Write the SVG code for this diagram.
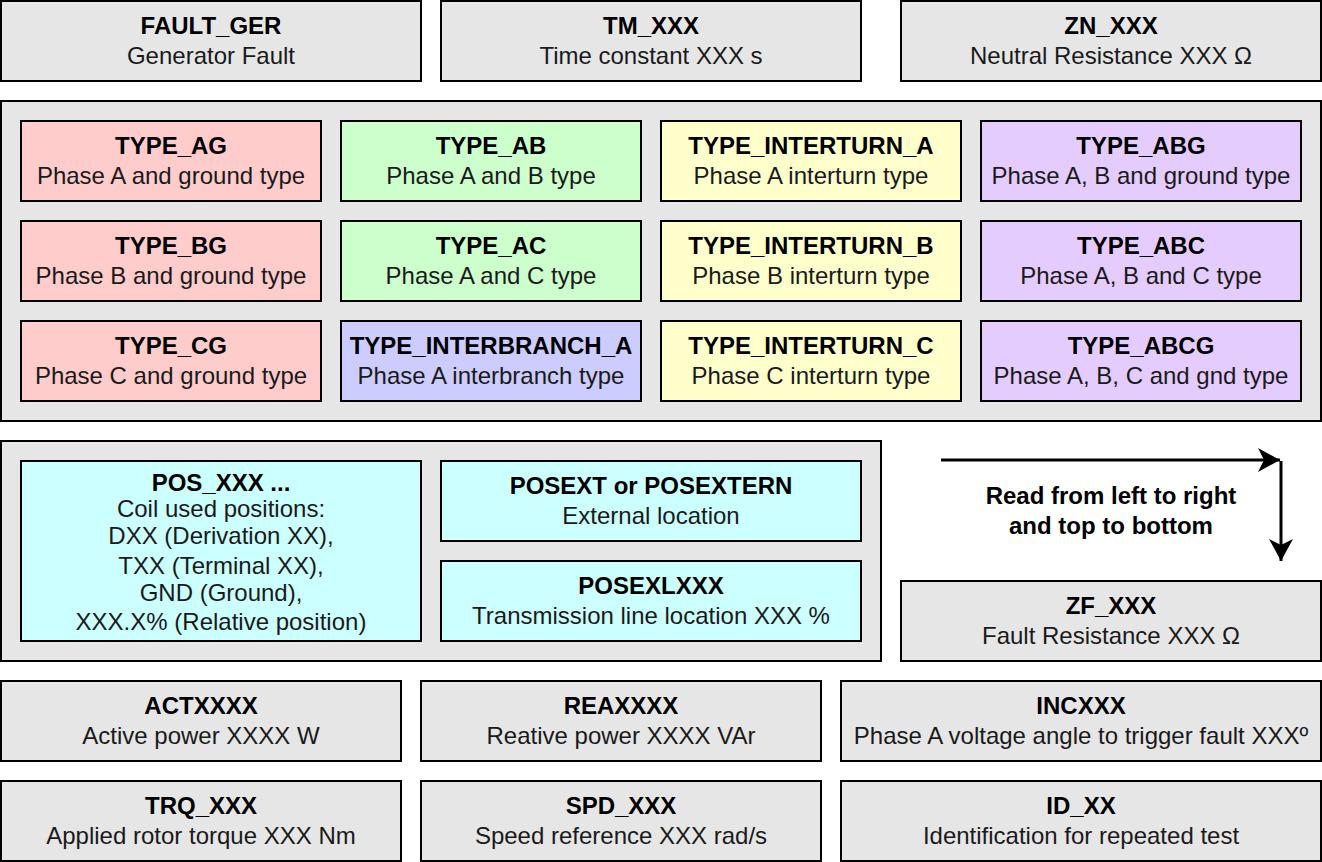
<svg xmlns="http://www.w3.org/2000/svg" width="1322" height="862" viewBox="0 0 1322 862">
<style>
rect{stroke:#000;stroke-width:2}
.g{fill:#e6e6e6}.r{fill:#ffcccc}.gr{fill:#ccffcc}.y{fill:#ffffcc}.p{fill:#e5ccff}.b{fill:#ccccff}.c{fill:#ccffff}
text{font-family:"Liberation Sans",Arial,sans-serif;font-size:24px;text-anchor:middle;fill:#000}
.t{font-weight:bold}
.s{fill:#1a1a1a}
</style>
<defs>
<marker id="ah" viewBox="0 0 22 24" refX="22" refY="12" markerWidth="22" markerHeight="24" markerUnits="userSpaceOnUse" orient="auto">
<path d="M0,0 L22,12 L0,24 L6,12 Z" fill="#000"/>
</marker>
</defs>
<g id="fault_ger"><rect class="g" x="1" y="1" width="420" height="80"/><text class="t" x="211" y="34">FAULT_GER</text><text class="s" x="211" y="64">Generator Fault</text></g>
<g id="tm"><rect class="g" x="441" y="1" width="420" height="80"/><text class="t" x="651" y="34">TM_XXX</text><text class="s" x="651" y="64">Time constant XXX s</text></g>
<g id="zn"><rect class="g" x="901" y="1" width="420" height="80"/><text class="t" x="1111" y="34">ZN_XXX</text><text class="s" x="1111" y="64">Neutral Resistance XXX Ω</text></g>

<g id="types"><rect class="g" x="1" y="101" width="1320" height="320"/></g>
<g id="type_ag"><rect class="r" x="21" y="121" width="300" height="80"/><text class="t" x="171" y="154">TYPE_AG</text><text class="s" x="171" y="184">Phase A and ground type</text></g>
<g id="type_bg"><rect class="r" x="21" y="221" width="300" height="80"/><text class="t" x="171" y="254">TYPE_BG</text><text class="s" x="171" y="284">Phase B and ground type</text></g>
<g id="type_cg"><rect class="r" x="21" y="321" width="300" height="80"/><text class="t" x="171" y="354">TYPE_CG</text><text class="s" x="171" y="384">Phase C and ground type</text></g>
<g id="type_ab"><rect class="gr" x="341" y="121" width="300" height="80"/><text class="t" x="491" y="154">TYPE_AB</text><text class="s" x="491" y="184">Phase A and B type</text></g>
<g id="type_ac"><rect class="gr" x="341" y="221" width="300" height="80"/><text class="t" x="491" y="254">TYPE_AC</text><text class="s" x="491" y="284">Phase A and C type</text></g>
<g id="type_interbranch_a"><rect class="b" x="341" y="321" width="300" height="80"/><text class="t" x="491" y="354">TYPE_INTERBRANCH_A</text><text class="s" x="491" y="384">Phase A interbranch type</text></g>
<g id="type_interturn_a"><rect class="y" x="661" y="121" width="300" height="80"/><text class="t" x="811" y="154">TYPE_INTERTURN_A</text><text class="s" x="811" y="184">Phase A interturn type</text></g>
<g id="type_interturn_b"><rect class="y" x="661" y="221" width="300" height="80"/><text class="t" x="811" y="254">TYPE_INTERTURN_B</text><text class="s" x="811" y="284">Phase B interturn type</text></g>
<g id="type_interturn_c"><rect class="y" x="661" y="321" width="300" height="80"/><text class="t" x="811" y="354">TYPE_INTERTURN_C</text><text class="s" x="811" y="384">Phase C interturn type</text></g>
<g id="type_abg"><rect class="p" x="981" y="121" width="320" height="80"/><text class="t" x="1141" y="154">TYPE_ABG</text><text class="s" x="1141" y="184">Phase A, B and ground type</text></g>
<g id="type_abc"><rect class="p" x="981" y="221" width="320" height="80"/><text class="t" x="1141" y="254">TYPE_ABC</text><text class="s" x="1141" y="284">Phase A, B and C type</text></g>
<g id="type_abcg"><rect class="p" x="981" y="321" width="320" height="80"/><text class="t" x="1141" y="354">TYPE_ABCG</text><text class="s" x="1141" y="384">Phase A, B, C and gnd type</text></g>

<g id="positions"><rect class="g" x="1" y="441" width="880" height="220"/></g>
<g id="pos_xxx"><rect class="c" x="21" y="461" width="400" height="180"/>
<text class="t" x="221" y="491">POS_XXX ...</text>
<text class="s" x="221" y="517">Coil used positions:</text>
<text class="s" x="221" y="544">DXX (Derivation XX),</text>
<text class="s" x="221" y="574">TXX (Terminal XX),</text>
<text class="s" x="221" y="601">GND (Ground),</text>
<text class="s" x="221" y="630">XXX.X% (Relative position)</text></g>
<g id="posext"><rect class="c" x="441" y="461" width="420" height="80"/><text class="t" x="651" y="494">POSEXT or POSEXTERN</text><text class="s" x="651" y="524">External location</text></g>
<g id="posexl"><rect class="c" x="441" y="561" width="420" height="80"/><text class="t" x="651" y="594">POSEXLXXX</text><text class="s" x="651" y="624">Transmission line location XXX %</text></g>
<g id="zf"><rect class="g" x="901" y="581" width="420" height="80"/><text class="t" x="1111" y="614">ZF_XXX</text><text class="s" x="1111" y="644">Fault Resistance XXX Ω</text></g>

<g id="act"><rect class="g" x="1" y="681" width="400" height="80"/><text class="t" x="201" y="714">ACTXXXX</text><text class="s" x="201" y="744">Active power XXXX W</text></g>
<g id="rea"><rect class="g" x="421" y="681" width="400" height="80"/><text class="t" x="621" y="714">REAXXXX</text><text class="s" x="621" y="744">Reative power XXXX VAr</text></g>
<g id="inc"><rect class="g" x="841" y="681" width="480" height="80"/><text class="t" x="1081" y="714">INCXXX</text><text class="s" x="1081" y="744">Phase A voltage angle to trigger fault XXXº</text></g>
<g id="trq"><rect class="g" x="1" y="781" width="400" height="80"/><text class="t" x="201" y="814">TRQ_XXX</text><text class="s" x="201" y="844">Applied rotor torque XXX Nm</text></g>
<g id="spd"><rect class="g" x="421" y="781" width="400" height="80"/><text class="t" x="621" y="814">SPD_XXX</text><text class="s" x="621" y="844">Speed reference XXX rad/s</text></g>
<g id="id"><rect class="g" x="841" y="781" width="480" height="80"/><text class="t" x="1081" y="814">ID_XX</text><text class="s" x="1081" y="844">Identification for repeated test</text></g>

<g id="connectors" fill="none" stroke="#000" stroke-width="3">
<line x1="941" y1="460" x2="1280" y2="460" marker-end="url(#ah)"/>
<line x1="1281" y1="461" x2="1281" y2="561" marker-end="url(#ah)"/>
</g>
<g id="note"><text class="t" x="1111" y="504">Read from left to right</text><text class="t" x="1111" y="534">and top to bottom</text></g>
</svg>
